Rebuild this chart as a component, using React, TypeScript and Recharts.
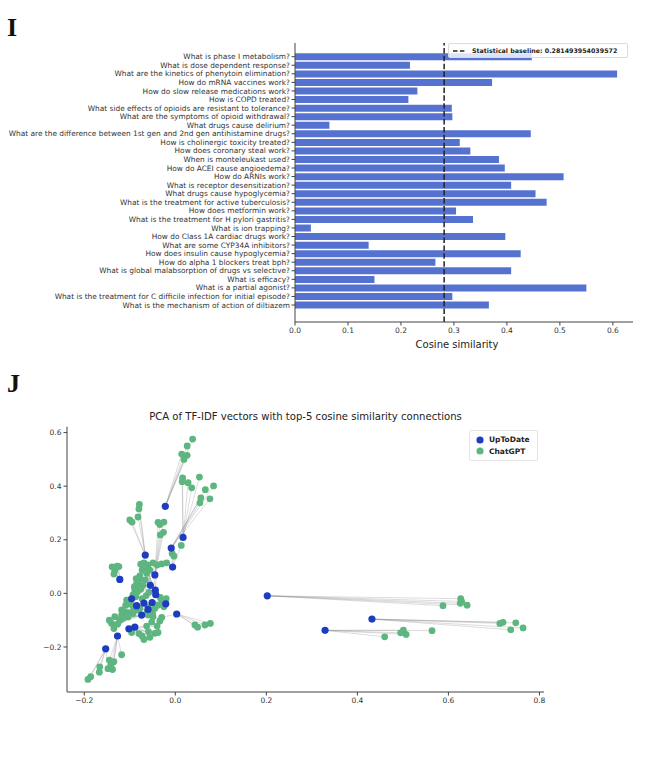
import React from "react";
import {
  BarChart,
  Bar,
  XAxis,
  YAxis,
  ReferenceLine,
  ScatterChart,
  Scatter,
  Legend,
  Label,
} from "recharts";

// ---------- Panel I data ----------
const questions = [
  "What is phase I metabolism?",
  "What is dose dependent response?",
  "What are the kinetics of phenytoin elimination?",
  "How do mRNA vaccines work?",
  "How do slow release medications work?",
  "How is COPD treated?",
  "What side effects of opioids are resistant to tolerance?",
  "What are the symptoms of opioid withdrawal?",
  "What drugs cause delirium?",
  "What are the difference between 1st gen and 2nd gen antihistamine drugs?",
  "How is cholinergic toxicity treated?",
  "How does coronary steal work?",
  "When is monteleukast used?",
  "How do ACEI cause angioedema?",
  "How do ARNIs work?",
  "What is receptor desensitization?",
  "What drugs cause hypoglycemia?",
  "What is the treatment for active tuberculosis?",
  "How does metformin work?",
  "What is the treatment for H pylori gastritis?",
  "What is ion trapping?",
  "How do Class 1A cardiac drugs work?",
  "What are some CYP34A inhibitors?",
  "How does insulin cause hypoglycemia?",
  "How do alpha 1 blockers treat bph?",
  "What is global malabsorption of drugs vs selective?",
  "What is efficacy?",
  "What is a partial agonist?",
  "What is the treatment for C difficile infection for initial episode?",
  "What is the mechanism of action of diltiazem",
];
const similarity = [
  0.447, 0.217, 0.608, 0.372, 0.231, 0.214, 0.296, 0.297, 0.065, 0.445,
  0.311, 0.331, 0.385, 0.396, 0.507, 0.408, 0.454, 0.475, 0.304, 0.336,
  0.03, 0.397, 0.139, 0.426, 0.265, 0.408, 0.15, 0.55, 0.297, 0.366,
];
const baseline = 0.281493954039572;
const simTicks = [0, 0.1, 0.2, 0.3, 0.4, 0.5, 0.6];

// ---------- Panel J data ----------
const upToDatePoints: [number, number][] = [
  [-0.022, 0.325], [0.017, 0.209], [-0.009, 0.169], [-0.006, 0.098],
  [-0.066, 0.143], [-0.045, 0.069], [-0.122, 0.052], [-0.055, 0.03],
  [-0.044, 0.012], [-0.043, -0.005], [-0.096, -0.02], [-0.021, -0.039],
  [0.202, -0.009], [0.003, -0.077], [-0.089, -0.126], [-0.102, -0.132],
  [-0.127, -0.159], [-0.153, -0.207], [0.329, -0.138], [0.432, -0.096],
  [-0.074, -0.081], [-0.085, -0.046], [-0.069, -0.036], [-0.051, -0.034],
  [-0.06, -0.06],
];
const chatGPTPoints: [number, number][] = [
  [0.038, 0.576], [0.026, 0.55], [0.014, 0.52], [0.026, 0.515], [0.019, 0.5],
  [0.016, 0.431], [0.015, 0.417], [0.028, 0.413], [0.053, 0.434], [0.036, 0.394],
  [0.084, 0.401], [0.066, 0.387], [0.056, 0.356], [0.076, 0.353], [0.054, 0.338],
  [-0.079, 0.332], [-0.08, 0.315], [-0.082, 0.285], [-0.1, 0.274], [-0.095, 0.266],
  [-0.038, 0.265], [-0.025, 0.266], [-0.034, 0.257], [-0.026, 0.228], [-0.033, 0.218],
  [0.013, 0.179], [-0.007, 0.149], [-0.003, 0.139], [-0.019, 0.114], [-0.03, 0.11],
  [-0.139, 0.099], [-0.128, 0.102], [-0.133, 0.084], [-0.135, 0.072], [-0.124, 0.1],
  [-0.076, 0.109], [-0.069, 0.114], [-0.06, 0.106], [-0.065, 0.093], [-0.049, 0.114],
  [-0.04, 0.106], [-0.073, 0.087], [-0.056, 0.087], [-0.063, 0.075], [-0.07, 0.1],
  [-0.085, 0.037], [-0.08, 0.027], [-0.089, 0.012], [-0.083, 0.006], [-0.076, 0.015],
  [-0.093, -0.006], [-0.087, -0.013], [-0.066, 0.05], [-0.08, 0.048], [-0.09, 0.025],
  [-0.107, -0.025], [-0.1, -0.031], [-0.109, -0.044], [-0.118, -0.062], [-0.111, -0.069],
  [-0.102, -0.072], [-0.093, -0.075], [-0.085, -0.062], [-0.078, -0.056], [-0.06, -0.05],
  [-0.052, -0.062], [-0.045, -0.056], [-0.038, -0.044], [-0.03, -0.025], [-0.027, -0.037],
  [-0.033, -0.015], [-0.02, -0.02], [-0.025, -0.05], [-0.133, -0.087], [-0.122, -0.1],
  [-0.14, -0.112], [-0.135, -0.131], [-0.115, -0.093], [-0.127, -0.115], [-0.145, -0.1],
  [-0.06, -0.081], [-0.049, -0.087], [-0.034, -0.103], [-0.052, -0.107], [-0.063, -0.122],
  [-0.04, -0.122], [-0.059, -0.143], [-0.045, -0.149], [-0.038, -0.146], [-0.073, -0.159],
  [-0.069, -0.172], [-0.056, -0.164], [-0.096, -0.146], [-0.08, -0.15], [-0.03, -0.09],
  [0.043, -0.118], [0.049, -0.126], [0.065, -0.118], [0.077, -0.112],
  [-0.192, -0.321], [-0.186, -0.311], [-0.167, -0.294], [-0.166, -0.274], [-0.148, -0.281],
  [-0.138, -0.284], [-0.141, -0.264], [-0.145, -0.249], [-0.135, -0.255], [-0.118, -0.229],
  [0.627, -0.02], [0.629, -0.03], [0.626, -0.037], [0.641, -0.044], [0.588, -0.046],
  [0.713, -0.112], [0.72, -0.108], [0.748, -0.11], [0.737, -0.136], [0.764, -0.129],
  [0.501, -0.137], [0.495, -0.147], [0.507, -0.153], [0.564, -0.139], [0.46, -0.162],
  [-0.098, -0.04], [-0.092, -0.052], [-0.073, -0.02], [-0.064, -0.008], [-0.058, 0.004],
  [-0.071, 0.03], [-0.062, -0.07], [-0.118, -0.08], [-0.104, -0.088], [-0.05, -0.075],
  [-0.078, 0.065], [-0.086, 0.055],
];
// top-5 connections: for each UpToDate point, indices of ChatGPT points
const topLinks: number[][] = [
  [0, 1, 2, 3, 4], [5, 6, 7, 8, 9], [10, 11, 12, 13, 14], [25, 26, 27, 28, 29],
  [15, 16, 17, 18, 19], [20, 21, 22, 23, 24], [30, 31, 32, 33, 34], [35, 37, 41, 42, 43],
  [36, 38, 39, 40, 44], [45, 46, 52, 53, 49], [47, 48, 50, 51, 54], [66, 67, 68, 69, 70],
  [109, 110, 111, 112, 113], [95, 96, 97, 98, 94], [84, 86, 89, 90, 93], [92, 91, 87, 88, 85],
  [104, 105, 106, 107, 108], [99, 100, 101, 102, 103], [119, 120, 121, 122, 123],
  [114, 115, 116, 117, 118], [73, 74, 75, 77, 78], [55, 56, 57, 62, 63], [58, 59, 60, 61, 64],
  [65, 71, 72, 76, 79], [80, 81, 82, 83, 62],
];
const pcaXTicks = [-0.2, 0, 0.2, 0.4, 0.6, 0.8];
const pcaYTicks = [-0.2, 0, 0.2, 0.4, 0.6];

const BAR_COLOR = "#5572d0";
const BLUE = "#1d3cc0";
const GREEN = "#5db57f";
const AXIS = "#444";
const FONT = "DejaVu Sans, Verdana, sans-serif";

const barData = questions.map((q, i) => ({ question: q, value: similarity[i] }));
const blueData = upToDatePoints.map(([x, y]) => ({ x, y }));
const greenData = chatGPTPoints.map(([x, y]) => ({ x, y }));

const fmt = (v: number) => (v < 0 ? "\u2212" + Math.abs(v).toFixed(1) : v.toFixed(1));

const dot = (color: string, r: number) => (props: any) =>
  <circle cx={props.cx} cy={props.cy} r={r} fill={color} />;

const QuestionTick = (props: any) => (
  <text
    x={props.x}
    y={props.y}
    dy="0.35em"
    textAnchor="end"
    fontSize={7.4}
    fill="#333"
    fontFamily={FONT}
  >
    {props.payload.value}
  </text>
);

const BaselineLegend = () => (
  <div
    style={{
      background: "rgba(255,255,255,0.8)",
      border: "1px solid #dcdcdc",
      borderRadius: 2,
      display: "flex",
      alignItems: "center",
      padding: "1px 10px 1px 4px",
      fontFamily: FONT,
      fontWeight: "bold",
      fontSize: 6.3,
      color: "#222",
      whiteSpace: "nowrap",
      height: 15,
      boxSizing: "border-box",
    }}
  >
    <svg width={12} height={4} style={{ marginRight: 7 }}>
      <line x1={0} y1={2} x2={12} y2={2} stroke="#222" strokeWidth={1.5} strokeDasharray="4.5 2.4" />
    </svg>
    <span>Statistical baseline: {String(baseline)}</span>
  </div>
);

const PcaLegend = () => (
  <div
    style={{
      background: "rgba(255,255,255,0.8)",
      border: "1px solid #e4e4e4",
      borderRadius: 2,
      padding: "3px 7px 3px 6px",
      fontFamily: FONT,
      fontWeight: "bold",
      fontSize: 7.5,
      color: "#222",
      lineHeight: "11.5px",
      boxSizing: "border-box",
    }}
  >
    {[
      ["UpToDate", BLUE],
      ["ChatGPT", GREEN],
    ].map(([name, c]) => (
      <div key={name} style={{ display: "flex", alignItems: "center" }}>
        <svg width={8} height={8} style={{ marginRight: 5 }}>
          <circle cx={4} cy={4} r={3.6} fill={c} />
        </svg>
        <span>{name}</span>
      </div>
    ))}
  </div>
);

export default function App() {
  return (
    <div style={{ position: "absolute", left: 0, top: 0, width: 656, height: 781, background: "#fff" }}>
      <div
        style={{
          position: "absolute",
          left: 7,
          top: 13,
          fontFamily: "Liberation Serif, Times New Roman, serif",
          fontWeight: "bold",
          fontSize: 26,
          lineHeight: "30px",
          color: "#111",
        }}
      >
        I
      </div>
      <div
        style={{
          position: "absolute",
          left: 7,
          top: 369,
          fontFamily: "Liberation Serif, Times New Roman, serif",
          fontWeight: "bold",
          fontSize: 26,
          lineHeight: "30px",
          color: "#111",
        }}
      >
        J
      </div>

      <div style={{ position: "absolute", left: 0, top: 30 }}>
        <BarChart
          width={656}
          height={360}
          data={barData}
          layout="vertical"
          margin={{ top: 13, right: 23, bottom: 28, left: 0 }}
          barCategoryGap="10%"
        >
          <XAxis
            type="number"
            domain={[0, 0.638]}
            ticks={simTicks}
            allowDataOverflow
            tickFormatter={(v: number) => v.toFixed(1)}
            height={40}
            axisLine={{ stroke: AXIS }}
            tickLine={{ stroke: AXIS }}
            tickSize={3.5}
            tickMargin={2}
            tick={{ fontSize: 7.5, fill: "#333", fontFamily: FONT }}
          >
            <Label
              value="Cosine similarity"
              position="insideBottom"
              offset={14}
              dx={-7}
              style={{ fontSize: 10, fill: "#222", fontFamily: FONT }}
            />
          </XAxis>
          <YAxis
            type="category"
            dataKey="question"
            width={295}
            interval={0}
            padding={{ top: 9.4, bottom: 12.7 }}
            axisLine={{ stroke: AXIS }}
            tickLine={{ stroke: AXIS }}
            tickSize={3.5}
            tickMargin={1.5}
            tick={<QuestionTick />}
          />
          <Bar dataKey="value" fill={BAR_COLOR} isAnimationActive={false} />
          <ReferenceLine
            x={baseline}
            stroke="#222"
            strokeWidth={1.5}
            strokeDasharray="5.5 2.4"
          />
          <Legend
            layout="vertical"
            verticalAlign="middle"
            align="center"
            content={() => <BaselineLegend />}
            wrapperStyle={{ position: "absolute", top: 13, left: 448, width: "auto", height: "auto" }}
          />
        </BarChart>
      </div>

      <div
        style={{
          position: "absolute",
          left: 67,
          width: 477,
          top: 411,
          textAlign: "center",
          fontFamily: FONT,
          fontSize: 10.1,
          color: "#222",
          whiteSpace: "nowrap",
        }}
      >
        PCA of TF-IDF vectors with top-5 cosine similarity connections
      </div>

      <div style={{ position: "absolute", left: 0, top: 400 }}>
        <ScatterChart
          width={656}
          height={330}
          margin={{ top: 26.7, right: 112, bottom: 13, left: 0 }}
        >
          <XAxis
            type="number"
            dataKey="x"
            domain={[-0.238, 0.81]}
            ticks={pcaXTicks}
            allowDataOverflow
            tickFormatter={fmt}
            height={25}
            axisLine={{ stroke: AXIS }}
            tickLine={{ stroke: AXIS }}
            tickSize={3.5}
            tickMargin={2}
            tick={{ fontSize: 7.5, fill: "#333", fontFamily: FONT }}
          />
          <YAxis
            type="number"
            dataKey="y"
            domain={[-0.368, 0.622]}
            ticks={pcaYTicks}
            allowDataOverflow
            tickFormatter={fmt}
            width={67}
            axisLine={{ stroke: AXIS }}
            tickLine={{ stroke: AXIS }}
            tickSize={3.5}
            tickMargin={2}
            tick={{ fontSize: 7.5, fill: "#333", fontFamily: FONT }}
          />
          {topLinks.flatMap((gs, bi) =>
            gs.map((gi) => (
              <ReferenceLine
                key={`l-${bi}-${gi}`}
                segment={[
                  { x: upToDatePoints[bi][0], y: upToDatePoints[bi][1] },
                  { x: chatGPTPoints[gi][0], y: chatGPTPoints[gi][1] },
                ]}
                stroke="#808080"
                strokeOpacity={0.35}
                strokeWidth={0.8}
                ifOverflow="visible"
              />
            ))
          )}
          <Scatter
            name="ChatGPT"
            data={greenData}
            fill={GREEN}
            shape={dot(GREEN, 3.4)}
            isAnimationActive={false}
          />
          <Scatter
            name="UpToDate"
            data={blueData}
            fill={BLUE}
            shape={dot(BLUE, 3.6)}
            isAnimationActive={false}
          />
          <Legend
            layout="vertical"
            verticalAlign="middle"
            align="center"
            content={() => <PcaLegend />}
            wrapperStyle={{ position: "absolute", top: 30, left: 469, width: "auto", height: "auto" }}
          />
        </ScatterChart>
      </div>
    </div>
  );
}
